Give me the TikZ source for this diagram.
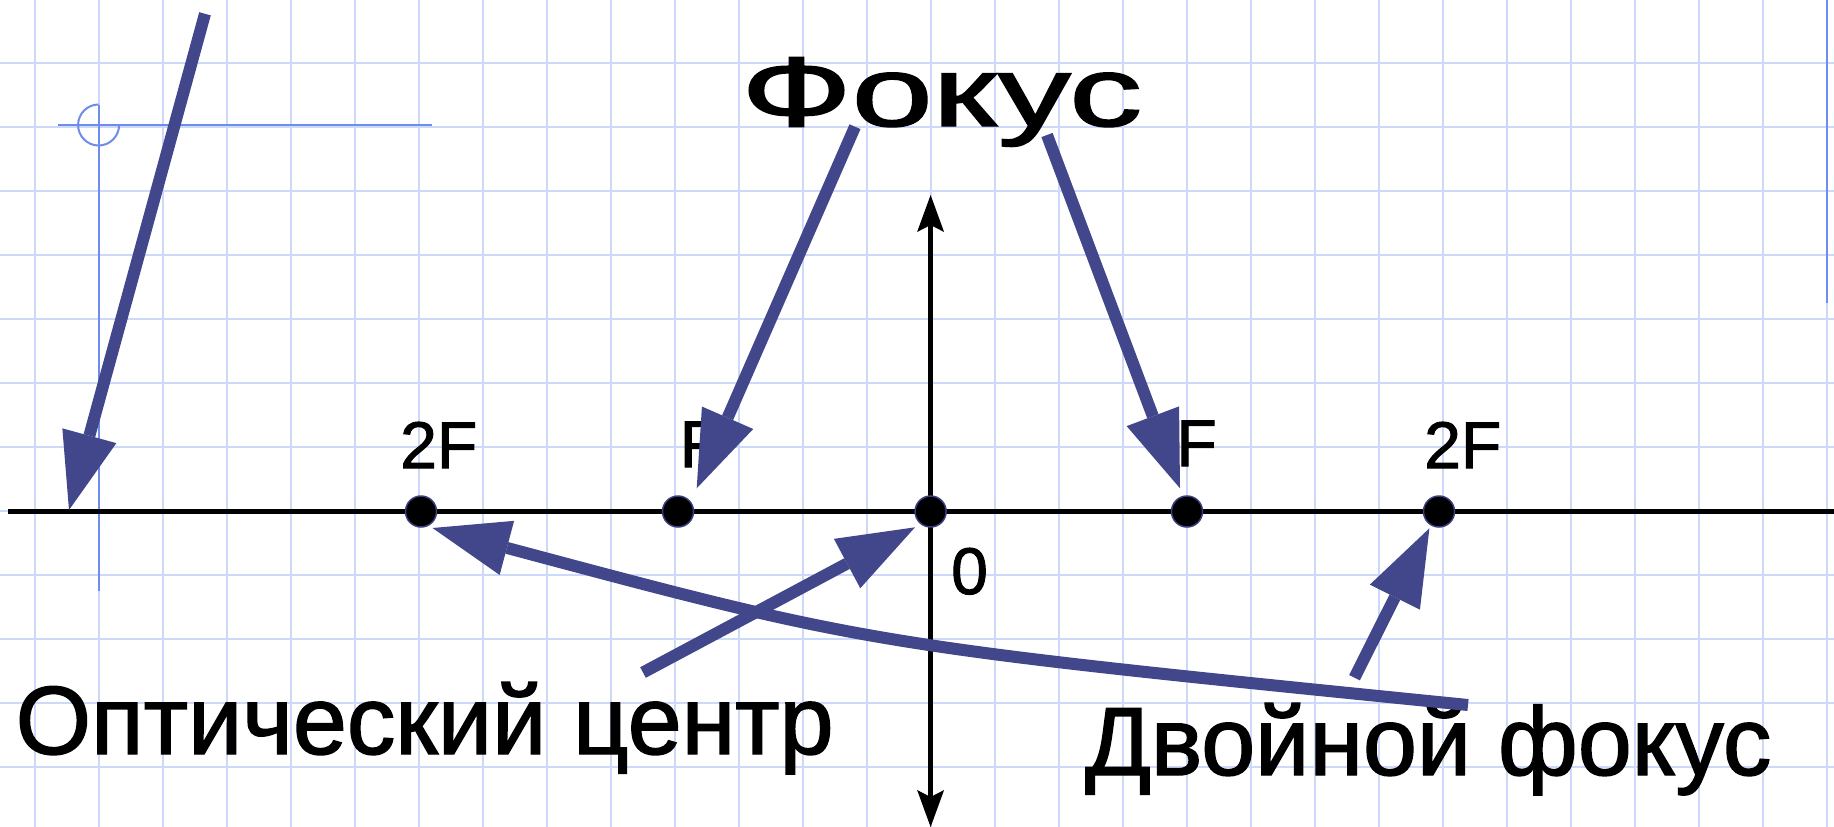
\documentclass[tikz,border=0pt]{standalone}
\usepackage{fontspec}
\setmainfont{Liberation Sans}[FakeBold=1.5]
\usetikzlibrary{arrows.meta}
\definecolor{gridc}{RGB}{204,217,250}
\definecolor{guide}{RGB}{110,140,235}
\definecolor{arrc}{RGB}{65,71,138}
\definecolor{dotb}{RGB}{58,62,128}
\tikzset{
  ptr/.style={draw=arrc, line width=12pt, -{Triangle[length=77pt,width=56pt,line width=0pt]}},
  fpt/.style={circle, fill=black, draw=dotb, line width=1.5pt, minimum size=31pt, inner sep=0pt},
  lbl/.style={font=\fontsize{66}{66}\selectfont, inner sep=0pt, anchor=base west},
  big/.style={font=\fontsize{97}{97}\selectfont, inner sep=0pt, anchor=base west},
  gridline/.style={draw=gridc, line width=2pt},
  guideline/.style={draw=guide, line width=2pt},
  axisline/.style={draw=black, line width=5.5pt},
}
\begin{document}
\begin{tikzpicture}[x=1pt,y=-1pt]
\useasboundingbox (0,0) rectangle (1834,827);
\fill[white] (0,0) rectangle (1834,827);
% grid
\foreach \k in {0,...,28} \draw[gridline] ({34.6+64*\k},0) -- ({34.6+64*\k},827);
\foreach \k in {0,...,11} \draw[gridline] (0,{62.7+64*\k}) -- (1834,{62.7+64*\k});
% guide marks
\coordinate (gh1) at (58,125);
\coordinate (gh2) at (432,125);
\coordinate (gv1) at (98.6,104.5);
\coordinate (gv2) at (98.6,591);
\draw[guideline] (gh1) -- (gh2);
\draw[guideline] (gv1) -- (gv2);
\draw[guideline] (gv1) arc[start angle=270, end angle=0, radius=20.5];
\coordinate (gr1) at (1827,0);
\coordinate (gr2) at (1827,303);
\draw[guideline, line width=2.5pt] (gr1) -- (gr2);
% axes
\coordinate (axL) at (8,511.5);
\coordinate (axR) at (1834,511.5);
\coordinate (lnT) at (930.6,195);
\coordinate (lnB) at (930.6,827);
\draw[axisline] (axL) -- (axR);
\draw[axisline, {Stealth[length=37pt,width=27pt,inset=7pt,line width=0pt]}-{Stealth[length=37pt,width=27pt,inset=7pt,line width=0pt]}] (lnT) -- (lnB);
% points
\node[fpt] (p2Fl) at (421,511.5) {};
\node[fpt] (pFl) at (678,511.5) {};
\node[fpt] (pO) at (930.6,511.5) {};
\node[fpt] (pFr) at (1187,511.5) {};
\node[fpt] (p2Fr) at (1439,511.5) {};
% labels
\node[lbl] (t2Fl) at (400,468) {2F};
\node[lbl] (tFl) at (679.6,467) {F};
\node[lbl] (tFr) at (1176.3,466) {F};
\node[lbl] (t2Fr) at (1424,468) {2F};
\node[lbl] (tO) at (951,594) {0};
\node[big] (tFocus) at (741,126) {\scalebox{1.5}[1.02]{Фокус}};
\node[big] (tCenter) at (15.5,754) {Оптический центр};
\node[big] (tDouble) at (1085,775) {Двойной фокус};
% arrows
\coordinate (a1s) at (205,13.8);   \coordinate (a1e) at (69,510);
\coordinate (a2s) at (855,126.7);  \coordinate (a2e) at (696.7,488.3);
\coordinate (a3s) at (1047,135);   \coordinate (a3e) at (1180,488.3);
\coordinate (a4s) at (1468,705);   \coordinate (a4c) at (870,645);  \coordinate (a4e) at (432.5,528);
\coordinate (a5s) at (643,672.5);  \coordinate (a5e) at (915,527.3);
\coordinate (a6s) at (1354.5,677.7); \coordinate (a6e) at (1429.4,528.3);
\draw[ptr] (a1s) -- (a1e);
\draw[ptr] (a2s) -- (a2e);
\draw[ptr] (a3s) -- (a3e);
\draw[ptr] (a4s) .. controls (a4c) .. (a4e);
\draw[ptr] (a5s) -- (a5e);
\draw[ptr] (a6s) -- (a6e);
\end{tikzpicture}
\end{document}
